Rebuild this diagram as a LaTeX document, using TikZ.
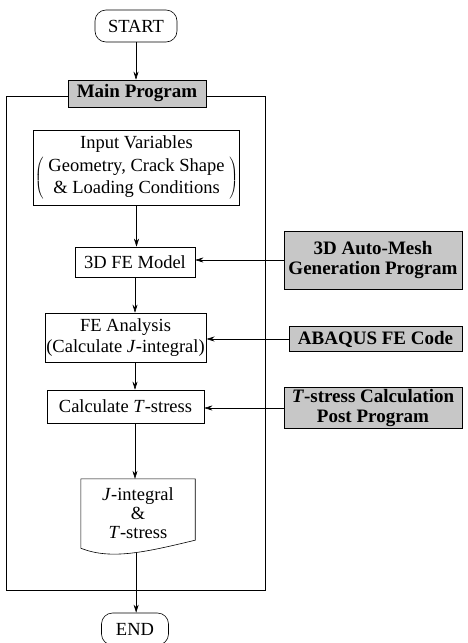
\documentclass[tikz,border=0pt]{standalone}
\usepackage{fontspec}
\setmainfont{Liberation Serif}
\usetikzlibrary{arrows.meta}

\tikzset{
    every node/.style={font=\fontsize{18.5}{21}\selectfont, align=center, inner sep=1.5pt},
    stepbox/.style={draw, line width=0.6pt},
    progbox/.style={draw, line width=0.6pt, fill=black!22, font=\fontsize{19}{20}\selectfont\bfseries},
    termbox/.style={draw, line width=0.6pt, rounded corners=11pt},
    flow/.style={-{Stealth[length=8pt,width=5pt]}, line width=0.5pt}
}

\begin{document}
\begin{tikzpicture}[x=1pt, y=-1pt]
        \useasboundingbox (0,0) rectangle (468,643);
        % frame of the main program
        \draw[line width=0.6pt] (6,96) rectangle (265,590);
        % nodes
        \node[termbox, minimum width=82pt, minimum height=32pt] (start) at (136,26) {START};
        \node[progbox, minimum width=138pt, minimum height=27pt] (main) at (137,93.5) {Main Program};
            \node[stepbox, minimum width=204pt, minimum height=75pt] (input) at (136.5,167.5)
                {Input Variables\\[3pt]
                 $\left(\;\begin{tabular}{@{}c@{}}Geometry, Crack Shape\\[1pt] \& Loading Conditions\end{tabular}\;\right)$};
            \node[stepbox, minimum width=120pt, minimum height=30pt] (model) at (135,262) {3D FE Model};
            \node[stepbox, minimum width=159pt, minimum height=49pt] (fea) at (125.5,337.5)
                {FE Analysis\\(Calculate \textit{J}-integral)};
            \node[stepbox, minimum width=157pt, minimum height=33pt] (calc) at (125.5,406.5)
                {Calculate \textit{T}-stress};
            \node[minimum width=114pt, minimum height=69pt] (res) at (138,513.5)
                {\textit{J}-integral\\[-2pt]\&\\[-2pt]\textit{T}-stress};
        \node[termbox, minimum width=67pt, minimum height=32pt] (end) at (135,629) {END};
        % outside programs
        \node[progbox, minimum width=178pt, minimum height=58pt] (mesh) at (373,260)
            {3D Auto-Mesh\\Generation Program};
        \node[progbox, minimum width=173pt, minimum height=25pt] (abaqus) at (375.5,339)
            {ABAQUS FE Code};
        \node[progbox, minimum width=178pt, minimum height=41pt] (post) at (373,408)
            {\textit{T}-stress Calculation\\Post Program};
        % document outline
        \draw[line width=0.6pt] (res.south west) -- (res.north west) -- (res.north east)
            -- ([yshift=8pt]res.south east)
            .. controls +(-50,12) and +(30,12) .. (res.south west)
            coordinate[pos=0.45] (res-b);
        % arrows
        \draw[flow] (start.south) -- (start.south |- main.north);
        \draw[flow] (input.south) -- (input.south |- model.north);
        \draw[flow] (model.south) -- (model.south |- fea.north);
        \draw[flow] (model.south |- fea.south) -- (model.south |- calc.north);
        \draw[flow] (model.south |- calc.south) -- (model.south |- res.north);
        \draw[flow] (res-b) -- (res-b |- end.north);
        \draw[flow] (mesh.west) -- (mesh.west -| model.east);
        \draw[flow] (abaqus.west) -- (abaqus.west -| fea.east);
        \draw[flow] (post.west) -- (post.west -| calc.east);
\end{tikzpicture}
\end{document}
